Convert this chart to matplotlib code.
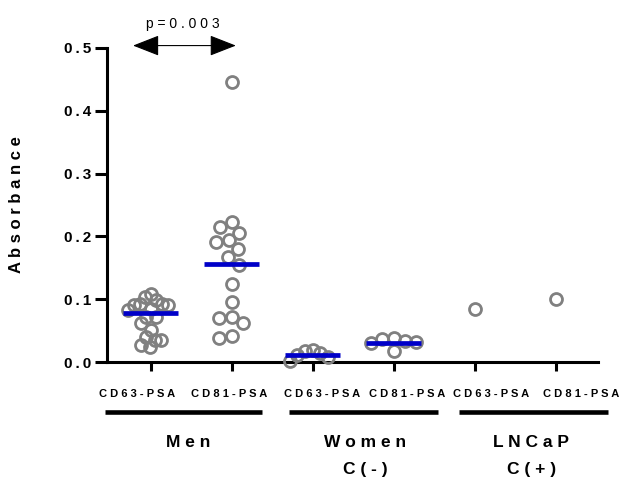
import numpy as np
import matplotlib
matplotlib.use("Agg")
import matplotlib.pyplot as plt
from matplotlib.transforms import blended_transform_factory, ScaledTranslation

# ---------------- data ----------------
categories = ["CD63-PSA", "CD81-PSA", "CD63-PSA", "CD81-PSA", "CD63-PSA", "CD81-PSA"]
men_cd63 = [0.109, 0.104, 0.099, 0.093, 0.093, 0.091, 0.091, 0.085, 0.083,
            0.072, 0.072, 0.062, 0.051, 0.040, 0.035, 0.035, 0.027, 0.024]
men_cd81 = [0.445, 0.223, 0.215, 0.206, 0.194, 0.191, 0.180, 0.167, 0.155,
            0.124, 0.096, 0.072, 0.070, 0.062, 0.042, 0.039]
women_cd63 = [0.020, 0.018, 0.014, 0.012, 0.008, 0.002]
women_cd81 = [0.038, 0.036, 0.033, 0.032, 0.030, 0.017]
lncap_cd63 = [0.084]
lncap_cd81 = [0.100]
series = [men_cd63, men_cd81, women_cd63, women_cd81, lncap_cd63, lncap_cd81]
medians = [0.0775, 0.156, 0.011, 0.030, None, None]
groups = ["Men", "Women", "LNCaP"]
group_sub = ["", "C(-)", "C(+)"]
yticks = [0.0, 0.1, 0.2, 0.3, 0.4, 0.5]
p_text = "p=0.003"

FONT = ["Liberation Sans", "DejaVu Sans"]
plt.rcParams["font.family"] = FONT


def sp(s, sep=" "):
    return sep.join(list(s))


fig = plt.figure(figsize=(6.3, 4.79), dpi=100)
ax = fig.add_axes([0.170, 0.244, 0.779, 0.656])
ax.set_xlim(-0.54, 5.52)
ax.set_ylim(0, 0.5)

GRAY = "#808080"
BLUE = "#0000c8"

# swarm layout in pixel space
fig.canvas.draw()
ppx = ax.transData.transform((1, 0))[0] - ax.transData.transform((0, 0))[0]
ppy = ax.transData.transform((0, 1))[1] - ax.transData.transform((0, 0))[1]


def swarm(vals, d=13.0, maxhalf=0.28):
    placed = []
    offs = []
    for v in vals:
        y = v * ppy
        cands = [0.0]
        for xo, yo in placed:
            dy = abs(y - yo)
            if dy < d:
                dx = np.sqrt(d * d - dy * dy)
                cands += [xo + dx, xo - dx]
        best = 0.0
        for c in sorted(cands, key=lambda c: (abs(c), c)):
            if all((c - xo) ** 2 + (y - yo) ** 2 >= d * d - 1e-6 for xo, yo in placed):
                best = c
                break
        placed.append((best, y))
        offs.append(best / ppx)
    offs = np.array(offs)
    m = np.abs(offs).max()
    if m > maxhalf:
        offs = offs * maxhalf / m
    return offs


for i, vals in enumerate(series):
    xo = swarm(vals)
    ax.plot(i + xo, vals, linestyle="none", marker="o", ms=8.6, mfc="none",
            mec=GRAY, mew=2.0, zorder=3, clip_on=False)
    if medians[i] is not None:
        ax.plot([i - 0.34, i + 0.34], [medians[i], medians[i]], color=BLUE,
                lw=3.4, solid_capstyle="butt", zorder=4)

# axes styling
for s in ["top", "right"]:
    ax.spines[s].set_visible(False)
for s in ["left", "bottom"]:
    ax.spines[s].set_linewidth(2.2)
ax.set_xticks(range(len(categories)))
ax.set_xticklabels([])
ax.set_yticks(yticks)
ax.set_yticklabels([sp(f"{t:.1f}", "\u2009") for t in yticks], fontsize=11, fontweight="bold")
ax.tick_params(axis="x", length=6.5, width=2.2)
ax.tick_params(axis="y", length=8.5, width=2.2, pad=3)
ax.set_ylabel(sp("Absorbance"), fontsize=12, fontweight="bold")
ax.yaxis.set_label_coords(-0.169, 0.5)

tr = blended_transform_factory(ax.transData, ax.transAxes)

# category labels (GraphPad-style shifts, in pixels)
label_shift_px = [-14, -3, 9, 13, 16, 25]
for i, (cat, dx) in enumerate(zip(categories, label_shift_px)):
    ax.text(i, -0.102, sp(cat), transform=tr + ScaledTranslation(dx / 100, 0, fig.dpi_scale_trans),
            ha="center", va="center", fontsize=8, fontweight="bold", clip_on=False)

# group bars and labels
bars = [(-0.568, 1.37), (1.70, 3.54), (3.80, 5.64)]
centers = [0.46, 2.65, 4.70]
for (x0, x1), c, g, sub in zip(bars, centers, groups, group_sub):
    ax.plot([x0, x1], [-0.159, -0.159], transform=tr, color="black", lw=3.3,
            solid_capstyle="butt", clip_on=False)
    ax.text(c, -0.255, sp(g), transform=tr, ha="center", va="center",
            fontsize=12.5, fontweight="bold")
    if sub:
        ax.text(c, -0.341, sp(sub), transform=tr, ha="center", va="center",
                fontsize=12.5, fontweight="bold")

# p-value arrow
ax.annotate("", xy=(-0.22, 0.5037), xytext=(1.05, 0.5037),
            arrowprops=dict(arrowstyle="<|-|>,head_length=1.66,head_width=0.65",
                            lw=0.8, color="black", shrinkA=0, shrinkB=0),
            annotation_clip=False)
ax.text(0.40, 0.538, sp(p_text), ha="center", va="center", fontsize=10)

fig.savefig("out.png", dpi=100)
